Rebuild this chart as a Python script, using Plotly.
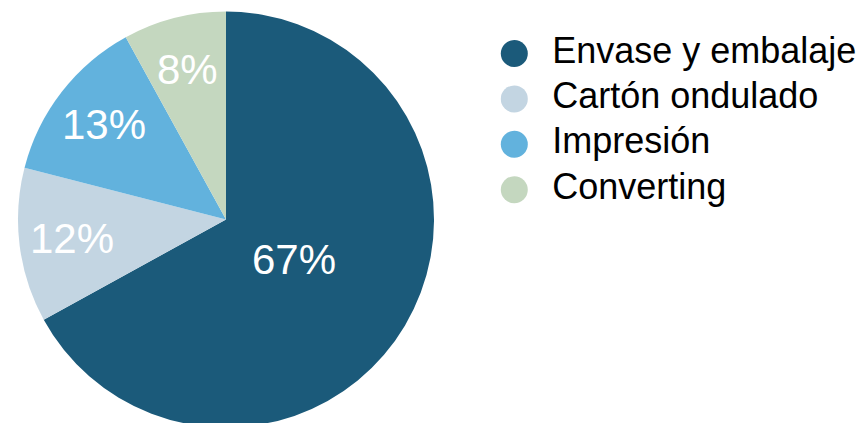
import math
import plotly.graph_objects as go

labels = ["Envase y embalaje", "Cartón ondulado", "Impresión", "Converting"]
values = [67, 12, 13, 8]
colors = ["#1B5A7A", "#C3D5E2", "#62B2DD", "#C4D7BF"]

W, H = 867, 423
OFF = 8  # page body margin
FONT = "Liberation Sans, Arial, Helvetica, sans-serif"

# pie geometry (pixels within the figure)
R = 208
CX = 226 - OFF
X0, X1 = CX - R, CX + R
CY = H / 2

fig = go.Figure()
fig.add_trace(go.Pie(
    labels=labels, values=values, sort=False, direction="clockwise", rotation=0,
    marker=dict(colors=colors, line=dict(width=0)),
    textinfo="none",
    domain=dict(x=[X0 / W, X1 / W], y=[0, 1]),
    showlegend=False, hoverinfo="label+percent",
))

# percentage labels placed at each slice's mid-angle
total = sum(values)
cum = 0
annotations = []
for v in values:
    frac = v / total
    mid = (cum + frac / 2) * 2 * math.pi
    cum += frac
    rf = 0.38 if frac > 0.5 else 0.745
    dx = math.sin(mid) * R * rf
    dy = -math.cos(mid) * R * rf
    annotations.append(dict(
        x=(CX + dx) / W, y=1 - (CY + dy) / H, xref="paper", yref="paper",
        text=f"{round(frac * 100)}%", showarrow=False,
        font=dict(family=FONT, size=42, color="white"),
        xanchor="center", yanchor="middle",
    ))

# legend drawn as a scatter of circle markers with labels
fig.add_trace(go.Scatter(
    x=[0] * len(labels), y=labels, mode="markers+text",
    marker=dict(size=27, color=colors, line=dict(width=0)),
    text=["  " + l for l in labels], textposition="middle right",
    textfont=dict(family=FONT, size=36, color="black"),
    showlegend=False, hoverinfo="skip", cliponaxis=False,
    xaxis="x", yaxis="y",
))

dom0 = 0.5
px0 = dom0 * W
span = W - px0
fx = (514.3 - OFF - px0) / span
unit = 45.4
top = -(53.5 - OFF) / unit
bot = top + H / unit

fig.update_layout(
    width=W, height=H, margin=dict(l=0, r=0, t=0, b=0),
    paper_bgcolor="white", plot_bgcolor="rgba(0,0,0,0)",
    xaxis=dict(domain=[dom0, 1], range=[-fx, 1 - fx], visible=False, fixedrange=True),
    yaxis=dict(domain=[0, 1], range=[bot, top], visible=False, fixedrange=True,
               type="category"),
    font=dict(family=FONT),
    annotations=annotations,
)

fig.write_html("out.html")
